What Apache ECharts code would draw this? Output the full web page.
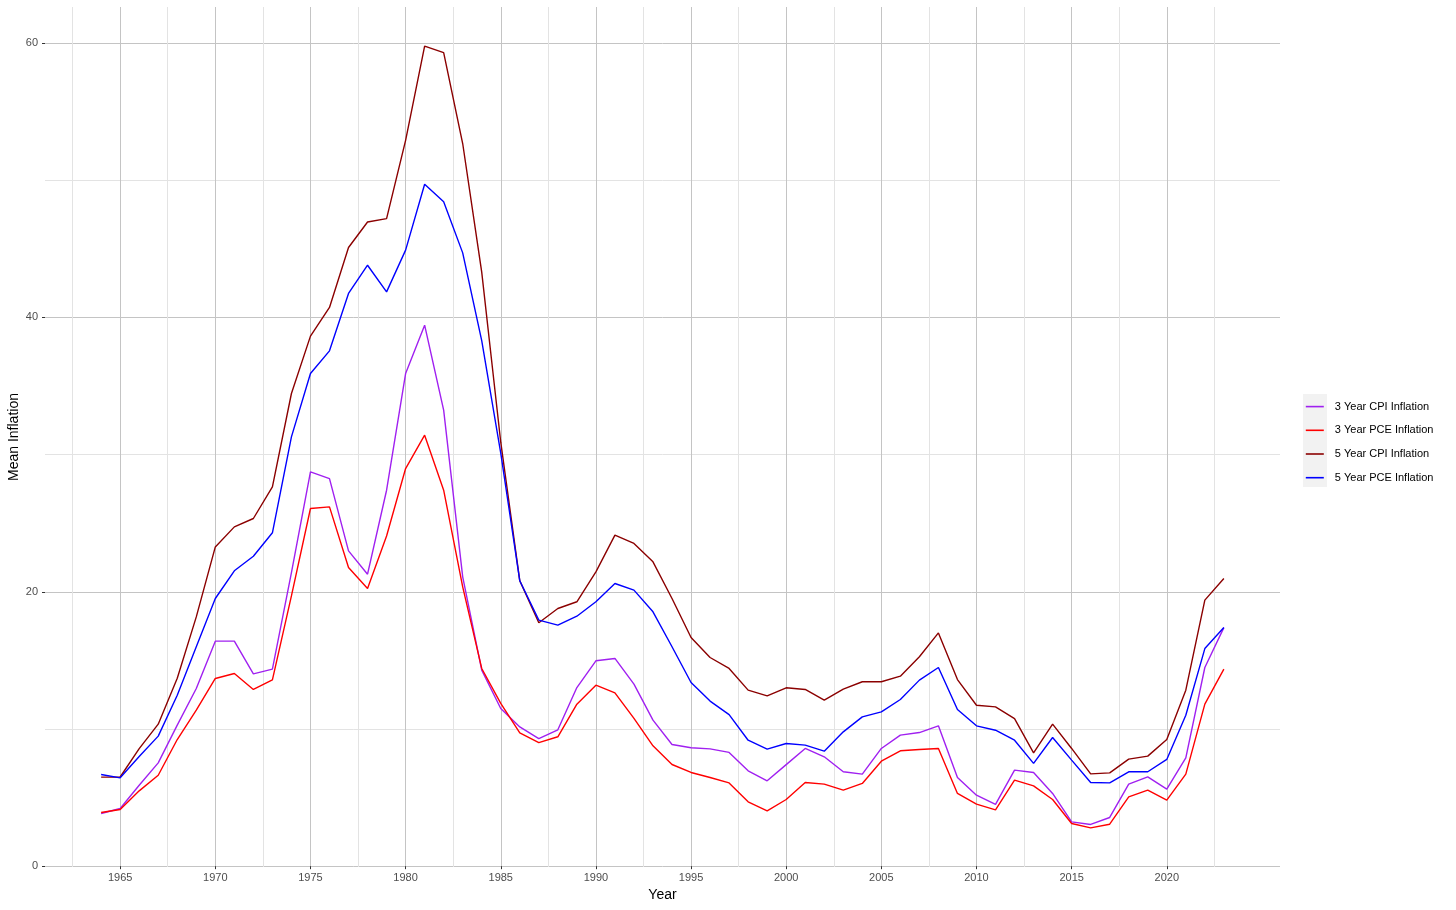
<!DOCTYPE html>
<html>
<head>
<meta charset="utf-8">
<title>Mean Inflation</title>
<script src="https://cdn.jsdelivr.net/npm/echarts@6/dist/echarts.min.js"></script>
<style>
  html, body { margin: 0; padding: 0; background: #fff; }
  #chart { width: 1456px; height: 910px; }
</style>
</head>
<body>
<div id="chart"></div>
<script>
// years 1964..2023
var years = [];
for (var yr = 1964; yr <= 2023; yr++) years.push(yr);

var cpi3 = [3.84, 4.2, 5.9, 7.53, 10.28, 12.95, 16.4, 16.4, 14.02, 14.36,
  21.4, 28.74, 28.25, 22.98, 21.28, 27.4, 35.9, 39.43, 33.24, 21.09,
  14.29, 11.49, 10.15, 9.3, 9.94, 13.02, 14.97, 15.14, 13.27, 10.64,
  8.87, 8.63, 8.55, 8.29, 6.95, 6.22, 7.4, 8.58, 7.97, 6.88,
  6.71, 8.58, 9.55, 9.74, 10.23, 6.46, 5.17, 4.5, 7.0, 6.83,
  5.3, 3.23, 3.04, 3.55, 5.98, 6.51, 5.61, 7.9, 14.48, 17.39];

var pce3 = [3.91, 4.13, 5.49, 6.63, 9.23, 11.37, 13.68, 14.04, 12.88, 13.58,
  19.7, 26.07, 26.19, 21.77, 20.24, 24.06, 28.98, 31.41, 27.4, 20.36,
  14.41, 11.86, 9.72, 9.01, 9.43, 11.81, 13.19, 12.63, 10.77, 8.77,
  7.41, 6.83, 6.46, 6.07, 4.69, 4.03, 4.86, 6.1, 5.98, 5.54,
  6.03, 7.65, 8.41, 8.5, 8.58, 5.3, 4.52, 4.1, 6.27, 5.85,
  4.86, 3.11, 2.79, 3.06, 5.05, 5.54, 4.81, 6.71, 11.81, 14.36];

var cpi5 = [6.49, 6.5, 8.57, 10.35, 13.7, 18.17, 23.27, 24.73, 25.34, 27.65,
  34.45, 38.63, 40.72, 45.09, 46.95, 47.2, 52.9, 59.77, 59.3, 52.67,
  43.3, 30.9, 20.8, 17.74, 18.78, 19.27, 21.45, 24.13, 23.52, 22.18,
  19.51, 16.67, 15.21, 14.41, 12.83, 12.41, 13.0, 12.88, 12.1, 12.9,
  13.44, 13.44, 13.85, 15.26, 17.0, 13.6, 11.73, 11.61, 10.76, 8.26,
  10.35, 8.58, 6.73, 6.8, 7.8, 8.02, 9.23, 12.83, 19.39, 20.97];

var pce5 = [6.68, 6.44, 8.0, 9.48, 12.46, 16.0, 19.51, 21.53, 22.59, 24.3,
  31.29, 35.91, 37.56, 41.74, 43.8, 41.86, 44.9, 49.7, 48.42, 44.7,
  38.3, 30.1, 20.8, 17.93, 17.57, 18.22, 19.27, 20.6, 20.12, 18.54,
  15.99, 13.39, 12.03, 11.05, 9.18, 8.53, 8.94, 8.82, 8.38, 9.79,
  10.88, 11.25, 12.15, 13.56, 14.48, 11.42, 10.23, 9.91, 9.18, 7.49,
  9.38, 7.73, 6.1, 6.07, 6.88, 6.88, 7.78, 11.0, 15.86, 17.39];

var xMajor = [1965, 1970, 1975, 1980, 1985, 1990, 1995, 2000, 2005, 2010, 2015, 2020];
var xMinor = [1962.5, 1967.5, 1972.5, 1977.5, 1982.5, 1987.5, 1992.5, 1997.5,
  2002.5, 2007.5, 2012.5, 2017.5, 2022.5];
var yMajor = [0, 20, 40, 60];
var yMinor = [10, 30, 50];

var names = ['3 Year CPI Inflation', '3 Year PCE Inflation', '5 Year CPI Inflation', '5 Year PCE Inflation'];
var colors = ['#A020F0', '#FF0000', '#8B0000', '#0000FF'];
var values = [cpi3, pce3, cpi5, pce5];

var font = '"Liberation Sans", Arial, Helvetica, sans-serif';
var xMin = 1961.05, xMax = 2025.95, yMin = -0.06, yMax = 62.62;

function pairs(arr) {
  return years.map(function (y, i) { return [y, arr[i]]; });
}

function plain(v) { return String(v); }

var chart = echarts.init(document.getElementById('chart'), null, { renderer: 'canvas' });

var option = {
  animation: false,
  backgroundColor: '#fff',
  textStyle: { fontFamily: font },
  grid: { left: 45, right: 176, top: 7, bottom: 43, containLabel: false, outerBoundsMode: 'none' },
  graphic: [{
    type: 'rect',
    left: 1303, top: 394,
    shape: { width: 24, height: 93 },
    style: { fill: '#F2F2F2' },
    z: -1
  }],
  legend: {
    orient: 'vertical',
    left: 1305,
    top: 401,
    padding: 0,
    itemWidth: 18,
    itemHeight: 14,
    itemGap: 12.5,
    data: names,
    itemStyle: { opacity: 0 },
    lineStyle: { width: 1.6 },
    textStyle: { fontFamily: font, fontSize: 11, color: '#000', padding: [0, 0, 0, 6] }
  },
  xAxis: [{
    type: 'value',
    min: xMin, max: xMax,
    name: 'Year',
    nameLocation: 'middle',
    nameGap: 21,
    nameMoveOverlap: false,
    nameTextStyle: { fontFamily: font, fontSize: 14, color: '#000' },
    axisLine: { show: false },
    axisTick: { show: true, length: 3, lineStyle: { color: '#333' }, customValues: xMajor },
    axisLabel: { customValues: xMajor, formatter: plain, margin: 5, fontSize: 11, color: '#4D4D4D', fontFamily: font },
    splitLine: { show: true, lineStyle: { color: '#C4C4C4', width: 1 } }
  }, {
    type: 'value',
    min: xMin, max: xMax,
    position: 'bottom',
    axisLine: { show: false },
    axisTick: { show: false, customValues: xMinor },
    axisLabel: { show: false, customValues: xMinor },
    splitLine: { show: true, lineStyle: { color: '#E3E3E3', width: 1 } }
  }],
  yAxis: [{
    type: 'value',
    min: yMin, max: yMax,
    name: 'Mean Inflation',
    nameLocation: 'middle',
    nameGap: 24,
    nameMoveOverlap: false,
    nameTextStyle: { fontFamily: font, fontSize: 14, color: '#000' },
    axisLine: { show: false },
    axisTick: { show: true, length: 3, lineStyle: { color: '#333' }, customValues: yMajor },
    axisLabel: { customValues: yMajor, formatter: plain, margin: 7, fontSize: 11, color: '#4D4D4D', fontFamily: font },
    splitLine: { show: true, lineStyle: { color: '#C4C4C4', width: 1 } }
  }, {
    type: 'value',
    min: yMin, max: yMax,
    position: 'left',
    axisLine: { show: false },
    axisTick: { show: false, customValues: yMinor },
    axisLabel: { show: false, customValues: yMinor },
    splitLine: { show: true, lineStyle: { color: '#E3E3E3', width: 1 } }
  }],
  series: values.map(function (arr, i) {
    return {
      name: names[i],
      type: 'line',
      xAxisIndex: 0,
      yAxisIndex: 0,
      data: pairs(arr),
      symbol: 'none',
      showSymbol: false,
      color: colors[i],
      lineStyle: { color: colors[i], width: 1.4 },
      z: 3 + i
    };
  })
};

chart.setOption(option);
</script>
</body>
</html>
